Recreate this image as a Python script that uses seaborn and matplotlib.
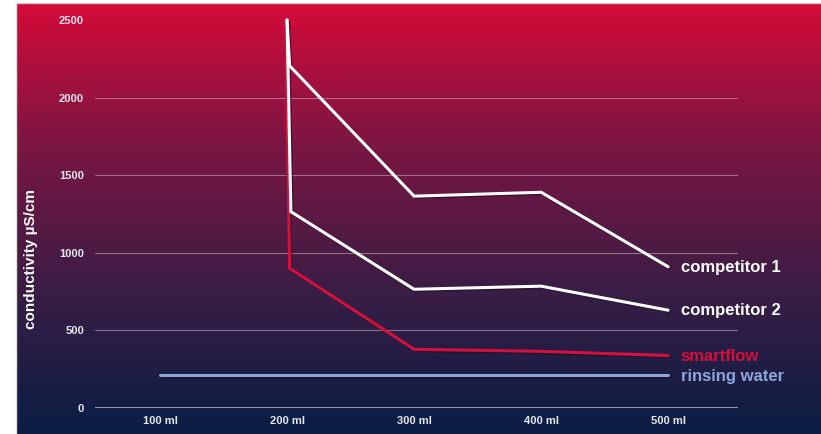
import numpy as np
import pandas as pd
import seaborn as sns
import matplotlib.pyplot as plt
import matplotlib.patheffects as pe
from matplotlib.colors import LinearSegmentedColormap

# data
volume_c1 = [200, 202, 300, 400, 500]
comp1 = [2500, 2205, 1365, 1390, 910]
volume_c2 = [200, 203, 300, 400, 500]
comp2 = [2500, 1265, 765, 785, 630]
volume_sf = [199, 202, 300, 400, 500]
smartflow = [2500, 900, 378, 365, 338]
volume_rw = [100, 500]
rinsing = [210, 210]

tick_pos = [100, 200, 300, 400, 500]
tick_labels = ['100 ml', '200 ml', '300 ml', '400 ml', '500 ml']
y_ticks = [0, 500, 1000, 1500, 2000, 2500]

df = pd.concat([
    pd.DataFrame({'volume': volume_rw, 'value': rinsing, 'series': 'rinsing water'}),
    pd.DataFrame({'volume': volume_sf, 'value': smartflow, 'series': 'smartflow'}),
    pd.DataFrame({'volume': volume_c2, 'value': comp2, 'series': 'competitor 2'}),
    pd.DataFrame({'volume': volume_c1, 'value': comp1, 'series': 'competitor 1'}),
])

colors = {'competitor 1': '#FFFFFF', 'competitor 2': '#FFFFFF',
          'smartflow': '#D4103C', 'rinsing water': '#8EA6DA'}

sns.set_style('white')
plt.rcParams['font.family'] = ['Liberation Sans', 'DejaVu Sans']

W, H = 821, 434
fig = plt.figure(figsize=(W / 100, H / 100), dpi=100)
fig.patch.set_facecolor('white')

# gradient background
bg = fig.add_axes([16 / W, 0, 1 - 16 / W, 431 / H])
cmap = LinearSegmentedColormap.from_list('bg', ['#0A1E44', '#3A1D45', '#7A1642', '#D40B3A'])
grad = np.linspace(0, 1, 256).reshape(-1, 1)
bg.imshow(grad, aspect='auto', cmap=cmap, origin='lower', extent=[0, 1, 0, 1])
bg.set_axis_off()
fig.add_artist(plt.Line2D([16 / W, 1], [431 / H, 431 / H], color='#C8C8C8', lw=1))
fig.add_artist(plt.Line2D([16 / W, 16 / W], [0, 431 / H], color='#E0E0E0', lw=1))

x0, x1 = 95, 738
y0, y1 = 408, 20
ax = fig.add_axes([x0 / W, (H - y0) / H, (x1 - x0) / W, (y0 - y1) / H])
ax.patch.set_alpha(0)

sns.lineplot(data=df, x='volume', y='value', hue='series', palette=colors,
             sort=False, estimator=None, linewidth=2.2, legend=False, ax=ax)
for line in ax.lines:
    line.set_clip_on(False)
    line.set_zorder(3)
    line.set_path_effects([pe.SimpleLineShadow(offset=(1, -1), shadow_color='#1a0a20', alpha=0.5),
                           pe.Normal()])

ax.set_xlim(48.8, 555)
ax.set_ylim(0, 2500)
ax.set_xticks(tick_pos)
ax.set_xticklabels(tick_labels)
ax.set_yticks(y_ticks)
for v in [500, 1000, 1500, 2000]:
    ax.axhline(v, color='#C9A9B8', lw=0.8, alpha=0.6, zorder=1)
ax.axhline(0, color='#B0B4C4', lw=1.2, zorder=1)

for s in ax.spines.values():
    s.set_visible(False)
ax.tick_params(length=0, colors='#E6E6EE', labelsize=8)
for lab in ax.get_xticklabels() + ax.get_yticklabels():
    lab.set_fontweight('bold')
ax.tick_params(axis='x', pad=6)
ax.tick_params(axis='y', pad=8)
ax.set_xlabel('')
ax.set_ylabel('conductivity µS/cm', color='white', fontsize=11, fontweight='bold')
ax.yaxis.set_label_coords(-0.089, 0.384)

# end labels
lab_x = 510
ax.text(lab_x, 908, 'competitor 1', color='white', fontsize=12, fontweight='bold', va='center')
ax.text(lab_x, 628, 'competitor 2', color='white', fontsize=12, fontweight='bold', va='center')
ax.text(lab_x, 335, 'smartflow', color='#D4103C', fontsize=12, fontweight='bold', va='center')
ax.text(lab_x, 205, 'rinsing water', color='#8EA6DA', fontsize=12, fontweight='bold', va='center')

fig.savefig('out.png', dpi=100)
